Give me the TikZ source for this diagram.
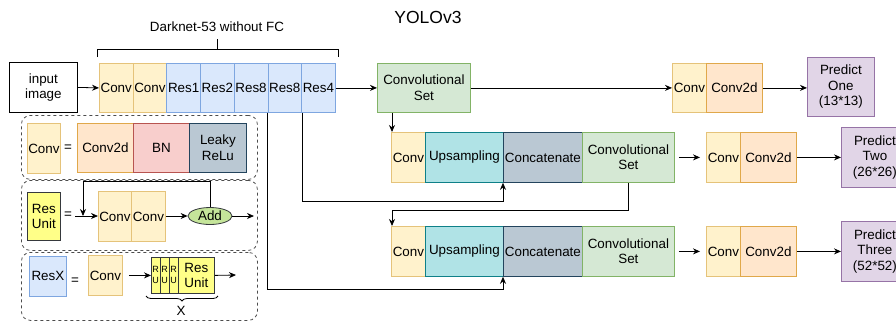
\documentclass[tikz,border=0pt]{standalone}
\usepackage{fontspec}
\setmainfont{Liberation Sans}
\usetikzlibrary{arrows.meta,shapes.geometric,decorations.pathreplacing}

\definecolor{convfill}{HTML}{FFF2CC}
\definecolor{convline}{HTML}{E5C37A}
\definecolor{resfill}{HTML}{DAE8FC}
\definecolor{resline}{HTML}{7EA6E0}
\definecolor{c2dfill}{HTML}{FFE6CC}
\definecolor{c2dline}{HTML}{E0A84A}
\definecolor{bnfill}{HTML}{F8CECC}
\definecolor{bnline}{HTML}{B85450}
\definecolor{greyfill}{HTML}{BAC8D3}
\definecolor{greyline}{HTML}{23445D}
\definecolor{setfill}{HTML}{D5E8D4}
\definecolor{setline}{HTML}{82B366}
\definecolor{upfill}{HTML}{B0E3E6}
\definecolor{upline}{HTML}{0E8088}
\definecolor{predfill}{HTML}{E1D5E7}
\definecolor{predline}{HTML}{9673A6}
\definecolor{unitfill}{HTML}{FFFF88}
\definecolor{unitline}{HTML}{36393D}
\definecolor{addfill}{HTML}{C5E59A}

\newcommand{\bodyfont}{\fontsize{13.4}{15.5}\selectfont}

\tikzset{
  blk/.style={draw, line width=0.8pt, inner sep=0pt, anchor=north west,
    align=center, font=\bodyfont},
  convb/.style={blk, fill=convfill, draw=convline},
  resb/.style={blk, fill=resfill, draw=resline},
  c2db/.style={blk, fill=c2dfill, draw=c2dline},
  bnb/.style={blk, fill=bnfill, draw=bnline},
  greyb/.style={blk, fill=greyfill, draw=greyline},
  setb/.style={blk, fill=setfill, draw=setline},
  upb/.style={blk, fill=upfill, draw=upline},
  predb/.style={blk, fill=predfill, draw=predline},
  unitb/.style={blk, fill=unitfill, draw=unitline},
  plainb/.style={blk, draw=black, fill=white},
  sz/.style 2 args={minimum width=#1, minimum height=#2},
  arr/.style={-{Stealth[length=7pt,width=6pt]}, line width=0.8pt, black},
  link/.style={line width=0.8pt, black},
  panel/.style={draw=black!70, dashed, line width=0.8pt, rounded corners=9pt,
    anchor=north west, inner sep=0pt},
  eqs/.style={font=\bodyfont, inner sep=0pt},
  peek/.style={font=\fontsize{9}{10.5}\selectfont, inner sep=0pt, align=center},
}

\begin{document}
\begin{tikzpicture}[x=1pt,y=-1pt]
\useasboundingbox (0,0) rectangle (896,322);
\clip (0,0) rectangle (896,322);

% title and backbone label
\node[font=\fontsize{17.5}{20}\selectfont] (title) at (428,17) {YOLOv3};
\node[font=\bodyfont] (dklabel) at (217,27) {Darknet-53 without FC};
\draw[link] (97,57) -- (97,49) -- (338,49) -- (338,57);
\draw[link] (217,49) -- (217,39);

% backbone
\node[plainb, sz={68pt}{50pt}] (in) at (9,62) {input\\image};
\node[convb, sz={33.7pt}{49pt}] (c1) at (99,63) {Conv};
\node[convb, sz={33.7pt}{49pt}] (c2) at (132.7,63) {Conv};
\node[resb, sz={33.7pt}{49pt}] (r1) at (166.4,63) {Res1};
\node[resb, sz={33.7pt}{49pt}] (r2) at (200.1,63) {Res2};
\node[resb, sz={33.7pt}{49pt}] (r8a) at (233.8,63) {Res8};
\node[resb, sz={33.7pt}{49pt}] (r8b) at (267.5,63) {Res8};
\node[resb, sz={33.7pt}{49pt}] (r4) at (301.2,63) {Res4};

% scale 1 branch
\node[setb, sz={93pt}{49pt}] (cs1) at (377,63) {Convolutional\\Set};
\node[convb, sz={34pt}{49pt}] (o1conv) at (672,63) {Conv};
\node[c2db, sz={56pt}{49pt}] (o1c2d) at (706,63) {Conv2d};
\node[predb, sz={67pt}{59pt}] (p1) at (807,57) {Predict\\One\\(13*13)};

% scale 2 branch
\node[convb, sz={34pt}{50pt}] (u2conv) at (391,132) {Conv};
\node[upb, sz={78pt}{50pt}] (u2up) at (425,132) {Upsampling};
\node[greyb, sz={79pt}{50pt}] (u2cat) at (503,132) {Concatenate};
\node[setb, sz={92pt}{50pt}] (cs2) at (582,132) {Convolutional\\Set};
\node[convb, sz={34pt}{50pt}] (o2conv) at (706,132) {Conv};
\node[c2db, sz={56pt}{50pt}] (o2c2d) at (740,132) {Conv2d};
\node[predb, sz={67pt}{60pt}] (p2) at (841,127) {Predict\\Two\\(26*26)};

% scale 3 branch
\node[convb, sz={34pt}{50pt}] (u3conv) at (391,226) {Conv};
\node[upb, sz={78pt}{50pt}] (u3up) at (425,226) {Upsampling};
\node[greyb, sz={79pt}{50pt}] (u3cat) at (503,226) {Concatenate};
\node[setb, sz={92pt}{50pt}] (cs3) at (582,226) {Convolutional\\Set};
\node[convb, sz={34pt}{50pt}] (o3conv) at (706,226) {Conv};
\node[c2db, sz={56pt}{50pt}] (o3c2d) at (740,226) {Conv2d};
\node[predb, sz={67pt}{60pt}] (p3) at (841,221) {Predict\\Three\\(52*52)};

% main connectors
\draw[arr] (in.east) -- (c1.west);
\draw[arr] (r4.east) -- (cs1.west);
\draw[arr] (cs1.east) -- (o1conv.west);
\draw[arr] (o1c2d.east) -- (p1.west |- o1c2d.east);
\draw[arr, shorten <=4pt, shorten >=6pt] (cs2.east) -- (o2conv.west);
\draw[arr] (o2c2d.east) -- (p2.west |- o2c2d.east);
\draw[arr, shorten <=4pt, shorten >=6pt] (cs3.east) -- (o3conv.west);
\draw[arr] (o3c2d.east) -- (p3.west |- o3c2d.east);
\draw[arr] ([xshift=15pt]cs1.south west) -- ([xshift=1pt]u2conv.north west);
\draw[arr] (cs2.south) -- ++(0,28) -| ([xshift=1pt]u3conv.north west);
\draw[arr] (r8b.south east) |- ([yshift=-19pt]u2cat.south west) -- (u2cat.south west);
\draw[arr] (r8b.south west) |- ([yshift=-13pt]u3cat.south west) -- (u3cat.south west);

% legend panels
\node[panel, sz={236pt}{64pt}] (pa) at (21,115) {};
\node[panel, sz={236pt}{70pt}] (pb) at (21,180) {};
\node[panel, sz={236pt}{68pt}] (pc) at (21,252) {};

% Conv legend
\node[convb, sz={33pt}{50pt}] (lconv) at (27,123) {Conv};
\node[eqs] (eqa) at (68,148) {=};
\node[c2db, sz={56pt}{49pt}] (lc2d) at (77,123) {Conv2d};
\node[bnb, sz={56pt}{49pt}] (lbn) at (133,123) {BN};
\node[greyb, sz={57pt}{49pt}] (lrelu) at (189,123) {Leaky\\ReLu};

% Res Unit legend
\node[unitb, sz={33pt}{48pt}] (lunit) at (27,192) {Res\\Unit};
\node[eqs] (eqb) at (68,215) {=};
\coordinate (uin) at (75,216);
\coordinate (skip) at (83,181);
\node[convb, sz={33pt}{50pt}] (uc1) at (98,191) {Conv};
\node[convb, sz={34pt}{50pt}] (uc2) at (131,191) {Conv};
\node[ellipse, draw=unitline, fill=addfill, line width=0.8pt, minimum width=44pt,
  minimum height=17pt, inner sep=0pt, font=\bodyfont] (add) at (210,216) {Add};
\coordinate (uout) at (254,216);
\draw[arr] (uin) -- (uc1.west |- uin);
\draw[arr] (uc2.east |- add.west) -- (add.west);
\draw[arr] (add.east) -- (uout);
\draw[arr] (add.north) |- (skip) -- (skip |- uin);

% ResX legend: a stack of Res Units, only the front one fully visible
\node[resb, sz={37pt}{40pt}] (lresx) at (29,256) {ResX};
\node[eqs] (eqc) at (75,281) {=};
\node[convb, sz={34pt}{40pt}] (xconv) at (88,255) {Conv};
\node[unitb, sz={36pt}{36pt}] (s1) at (151,257) {};
\node[peek] (s1t) at (155.5,275) {R\\U};
\node[unitb, sz={36pt}{36pt}] (s2) at (160,257) {};
\node[peek] (s2t) at (164.5,275) {R\\U};
\node[unitb, sz={36pt}{36pt}] (s3) at (169,257) {};
\node[peek] (s3t) at (173.5,275) {R\\U};
\node[unitb, sz={36pt}{36pt}] (s4) at (178,257) {Res\\Unit};
\coordinate (xout) at (236,275);
\draw[arr] ([xshift=6pt]xconv.east) -- (s1.west);
\draw[arr] (s4.east) -- (xout);
\draw[link, decorate, decoration={brace, mirror, amplitude=5pt}]
  (146,296) -- (218,296);
\node[eqs] (xlab) at (181,311) {X};
\end{tikzpicture}
\end{document}
